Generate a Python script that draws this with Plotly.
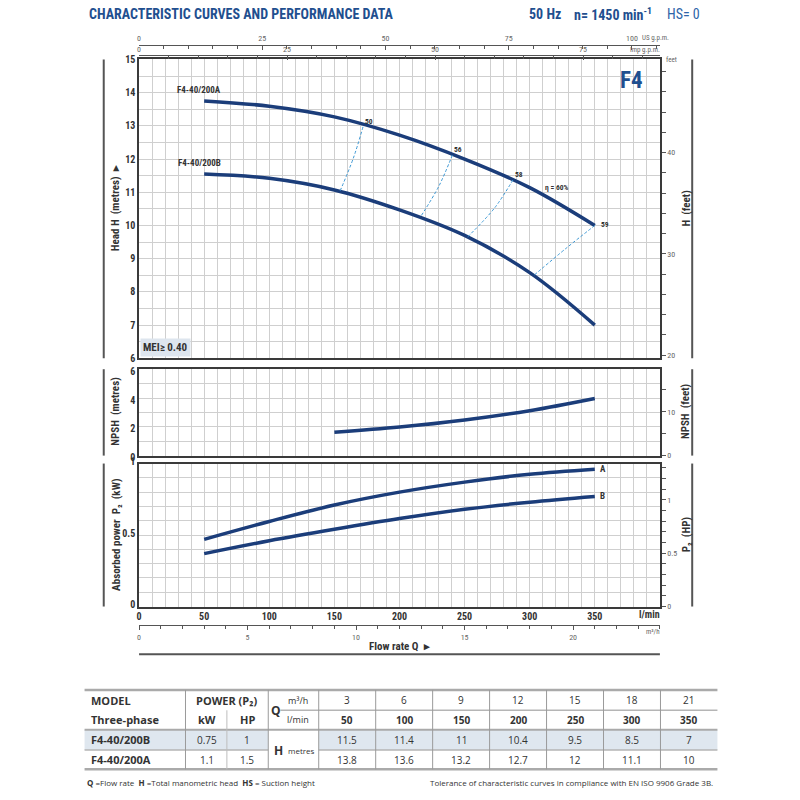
import numpy as np
import plotly.graph_objects as go

# flow rate (l/min) at which the curves were read
Q = [50, 100, 150, 200, 250, 300, 350]
HEAD_A = [13.75, 13.59, 13.27, 12.72, 12.0, 11.14, 10.0]
HEAD_B = [11.55, 11.42, 11.07, 10.47, 9.7, 8.58, 7.0]
POWER_A = [0.47, 0.595, 0.71, 0.80, 0.87, 0.925, 0.96]
POWER_B = [0.37, 0.46, 0.54, 0.615, 0.68, 0.73, 0.77]
NPSH_Q = [150, 200, 250, 300, 350]
NPSH = [1.62, 1.98, 2.47, 3.12, 3.97]

# iso-efficiency lines: (top on A, middle, bottom on B)
EFF_LABELS = ["50", "56", "58", "59"]
EFF_Q = [[172, 164.5, 154.4], [240.6, 230.2, 216], [287.1, 272.9, 252.2], [350, 328.5, 302.7]]
EFF_H = [[12.97, 12.02, 11.04], [12.12, 11.18, 10.25], [11.37, 10.52, 9.65], [10.0, 9.33, 8.48]]
ETA_TEXT = "η = 60%"
ETA_Q = 312

Q_TICKS = [0, 50, 100, 150, 200, 250, 300, 350]
USGPM_TICKS = [0, 25, 50, 75, 100]
IMPGPM_TICKS = [0, 25, 50, 75]
M3H_TICKS = [0, 5, 10, 15, 20]

# table
TAB_M3H = [3, 6, 9, 12, 15, 18, 21]
TAB_LMIN = [50, 100, 150, 200, 250, 300, 350]
TAB_MODELS = ["F4-40/200B", "F4-40/200A"]
TAB_KW = ["0.75", "1.1"]
TAB_HP = ["1", "1.5"]
TAB_H = [[11.5, 11.4, 11, 10.4, 9.5, 8.5, 7],
         [13.8, 13.6, 13.2, 12.7, 12, 11.1, 10]]

M_TO_FT = 3.28084
KW_TO_HP = 1 / 0.7457
LMIN_USGPM = 3.78541
LMIN_IMPGPM = 4.54609
LMIN_M3H = 1000 / 60
Q_MAX = 400

BLUE = "#1f4f8f"
CURVE = "#1b3d7a"
DASH = "#3a97d4"
GRID = "#cfcfcf"
FRAME = "#3a3a3a"
TXT = "#333333"
FONT = "Liberation Sans Narrow, Roboto Condensed, Roboto, sans-serif"
TFONT = "Open Sans, Noto Sans, sans-serif"

# the photographed page comes out slightly shrunk and offset, so layout
# positions (measured on the reference, in pixels) are corrected here
SHIFT = 5.2
SCALE = 0.987


def px(x):
    return (x - SHIFT) / SCALE / 800


def py(y):
    return 1 - (y - SHIFT) / SCALE / 800


XDOM = [px(140), px(656)]
DOM_H = [py(358), py(57)]
DOM_N = [py(456), py(369)]
DOM_P = [py(608), py(464)]

fig = go.Figure()

line_kw = dict(mode="lines", line=dict(color=CURVE, width=3.5, shape="spline"),
               hoverinfo="skip", showlegend=False)

fig.add_trace(go.Scatter(x=Q, y=HEAD_A, xaxis="x", yaxis="y", **line_kw))
fig.add_trace(go.Scatter(x=Q, y=HEAD_B, xaxis="x", yaxis="y", **line_kw))
for qs, hs in zip(EFF_Q, EFF_H):
    fig.add_trace(go.Scatter(x=qs, y=hs, xaxis="x", yaxis="y", mode="lines",
                             line=dict(color=DASH, width=1, dash="3px,2px", shape="spline"),
                             hoverinfo="skip", showlegend=False))
fig.add_trace(go.Scatter(x=NPSH_Q, y=NPSH, xaxis="x2", yaxis="y2", **line_kw))
fig.add_trace(go.Scatter(x=Q, y=POWER_A, xaxis="x3", yaxis="y3", **line_kw))
fig.add_trace(go.Scatter(x=Q, y=POWER_B, xaxis="x3", yaxis="y3", **line_kw))

# empty traces so that the secondary axes get drawn
for xa, ya in [("x", "y4"), ("x2", "y5"), ("x3", "y6"), ("x4", "y"), ("x5", "y"), ("x6", "y3")]:
    fig.add_trace(go.Scatter(x=[None], y=[None], xaxis=xa, yaxis=ya, showlegend=False,
                             hoverinfo="skip"))

base_x = dict(domain=XDOM, range=[0, Q_MAX], showgrid=True, gridcolor=GRID, gridwidth=1,
              zeroline=False, showline=True, linecolor=FRAME, linewidth=1.5, mirror=True,
              ticks="", tickmode="array", tickvals=Q_TICKS, showticklabels=False,
              minor=dict(tickmode="linear", tick0=0, dtick=10, showgrid=True,
                         gridcolor=GRID, gridwidth=1, ticks=""))
base_y = dict(showgrid=True, gridcolor=GRID, gridwidth=1, zeroline=False, showline=True,
              linecolor=FRAME, linewidth=1.5, mirror=True, ticks="",
              tickfont=dict(size=10, color=TXT, weight="bold"))
right_y = dict(side="right", showgrid=False, zeroline=False, showline=True, linecolor=FRAME,
               linewidth=1.5, ticks="outside", ticklen=4, tickcolor="#555",
               tickfont=dict(size=8, color="#666"))
top_x = dict(domain=XDOM, anchor="free", showgrid=False, zeroline=False, showline=True,
             linecolor="#555", linewidth=1, ticklen=4, tickcolor="#555",
             tickfont=dict(size=8, color="#666"), tickmode="array")

fig.update_layout(
    width=800, height=800, margin=dict(l=0, r=0, t=0, b=0),
    paper_bgcolor="white", plot_bgcolor="white", showlegend=False,
    font=dict(family=FONT, color=TXT),
    xaxis=dict(base_x, anchor="y"),
    xaxis2=dict(base_x, anchor="y2"),
    xaxis3=dict(base_x, anchor="y3", showticklabels=True,
                tickfont=dict(size=10, color=TXT, weight="bold")),
    yaxis=dict(base_y, domain=DOM_H, anchor="x", range=[6, 15], dtick=1, tick0=0,
               minor=dict(dtick=0.5, showgrid=True, gridcolor=GRID, ticks="")),
    yaxis2=dict(base_y, domain=DOM_N, anchor="x2", range=[0, 6], dtick=2, tick0=0,
                ticklabelshift=2,
                minor=dict(dtick=1, showgrid=True, gridcolor=GRID, ticks="")),
    yaxis3=dict(base_y, domain=DOM_P, anchor="x3", range=[0, 1], dtick=0.5, tick0=0,
                ticklabelshift=-2,
                minor=dict(dtick=0.1, showgrid=True, gridcolor=GRID, ticks="")),
    yaxis4=dict(right_y, overlaying="y", anchor="x", range=[6 * M_TO_FT, 15 * M_TO_FT],
                dtick=10, tick0=0, minor=dict(dtick=2, ticks="outside", ticklen=4, tickcolor="#555")),
    yaxis5=dict(right_y, overlaying="y2", anchor="x2", range=[0, 6 * M_TO_FT],
                dtick=10, tick0=0, minor=dict(dtick=5, ticks="outside", ticklen=4, tickcolor="#555")),
    yaxis6=dict(right_y, overlaying="y3", anchor="x3", range=[0, KW_TO_HP],
                dtick=0.5, tick0=0, minor=dict(dtick=0.1, ticks="outside", ticklen=4, tickcolor="#555")),
    xaxis4=dict(top_x, overlaying="x", position=py(42), side="top",
                range=[0, Q_MAX / LMIN_USGPM], tickvals=USGPM_TICKS, ticks="inside",
                minor=dict(tickmode="linear", tick0=0, dtick=5, ticks="inside", ticklen=3, tickcolor="#555")),
    xaxis5=dict(top_x, overlaying="x", position=py(53), side="top",
                range=[0, Q_MAX / LMIN_IMPGPM], tickvals=IMPGPM_TICKS, ticks="inside",
                minor=dict(tickmode="linear", tick0=0, dtick=5, ticks="inside", ticklen=3, tickcolor="#555")),
    xaxis6=dict(top_x, overlaying="x3", position=py(627), side="bottom",
                range=[0, Q_MAX / LMIN_M3H], tickvals=M3H_TICKS, ticks="outside",
                minor=dict(tickmode="linear", tick0=0, dtick=1, ticks="outside", ticklen=3, tickcolor="#555")),
)

ann = []


def note(x, y, text, size=10, color=TXT, xanchor="center", yanchor="middle", family=FONT, **kw):
    ann.append(dict(x=px(x), y=py(y), xref="paper", yref="paper", text=text, showarrow=False,
                    xanchor=xanchor, yanchor=yanchor,
                    font=dict(size=size, color=color, family=family), **kw))


# header
note(88, 11, "<b>CHARACTERISTIC CURVES AND PERFORMANCE DATA</b>", size=14, color=BLUE, xanchor="left")
note(524, 11, "<b>50 Hz</b>", size=14, color=BLUE, xanchor="left")
note(569, 11, "<b>n= 1450 min<sup>-1</sup></b>", size=14, color=BLUE, xanchor="left")
note(661, 11, "HS= 0", size=14, color="#2d64a8", xanchor="left")
note(636, 35, "US g.p.m.", size=7, color="#666", xanchor="left")
note(658, 48, "Imp g.p.m.", size=7, color="#666", xanchor="right")
note(667, 58, "feet", size=7, color="#666", xanchor="center")
note(628, 78, "<b>F4</b>", size=23, color=BLUE)

# axis titles
note(117, 207, "<b>Head H  (metres)  ▸</b>", size=11, textangle=-90)
note(117, 412, "<b>NPSH  (metres)</b>", size=11, textangle=-90)
note(117, 536, "<b>Absorbed power  P₂  (kW)</b>", size=11, textangle=-90)
note(682, 207, "<b>H  (feet)</b>", size=11, textangle=-90)
note(682, 412, "<b>NPSH  (feet)</b>", size=11, textangle=-90)
note(682, 536, "<b>P₂  (HP)</b>", size=11, textangle=-90)
note(646, 616, "<b>l/min</b>", size=10)
note(649, 634, "m³/h", size=7, color="#666")
note(398, 648, "<b>Flow rate Q  ▸</b>", size=11)
note(141, 357, "<b>MEI≥ 0.40</b>", size=11, xanchor="left", yanchor="bottom",
     bgcolor="#dde5ee", borderpad=2)

# curve labels
for name, h in zip(["F4-40/200A", "F4-40/200B"], [HEAD_A, HEAD_B]):
    ann.append(dict(x=Q[0], y=h[0], xref="x", yref="y", text="<b>" + name + "</b>",
                    showarrow=False, xanchor="center", yanchor="bottom", xshift=-5, yshift=4,
                    font=dict(size=9, color=TXT, family=FONT)))
for name, p in zip(["A", "B"], [POWER_A, POWER_B]):
    ann.append(dict(x=Q[-1], y=p[-1], xref="x3", yref="y3", text="<b>" + name + "</b>",
                    showarrow=False, xanchor="left", yanchor="middle", xshift=3,
                    font=dict(size=9, color=TXT, family=FONT)))
for i, (lab, qs, hs) in enumerate(zip(EFF_LABELS, EFF_Q, EFF_H)):
    last = i == len(EFF_LABELS) - 1
    ann.append(dict(x=qs[0], y=hs[0], xref="x", yref="y", text="<b>" + lab + "</b>",
                    showarrow=False, xanchor="left", yanchor="middle" if last else "bottom",
                    xshift=4 if last else 0, yshift=1 if last else -1,
                    font=dict(size=7.5, color=TXT, family=FONT)))
ann.append(dict(x=ETA_Q, y=float(np.interp(ETA_Q, Q, HEAD_A)), xref="x", yref="y",
                text="<b>" + ETA_TEXT + "</b>", showarrow=False, xanchor="left",
                yanchor="bottom", xshift=-2, yshift=3, font=dict(size=7.5, color=TXT, family=FONT)))

shapes = []


def hline(x0, x1, y, color="#555", width=2):
    shapes.append(dict(type="line", xref="paper", yref="paper", x0=px(x0), x1=px(x1),
                       y0=py(y), y1=py(y), line=dict(color=color, width=width)))


def vline(x, y0, y1, color="#555", width=2):
    shapes.append(dict(type="line", xref="paper", yref="paper", x0=px(x), x1=px(x),
                       y0=py(y0), y1=py(y1), line=dict(color=color, width=width)))


def rect(x0, x1, y0, y1, color):
    shapes.append(dict(type="rect", xref="paper", yref="paper", x0=px(x0), x1=px(x1),
                       y0=py(y0), y1=py(y1), fillcolor=color, line=dict(width=0), layer="below"))


for top, bot in [(57, 358), (369, 456), (464, 608)]:
    vline(105, top, bot)
    vline(688, top, bot)
hline(140, 656, 656)

# ---- table ----
T_L, T_R = 86, 713
ROWS = [692, 712.5, 732, 752.5, 772]
COL_W = (T_R - 318) / len(TAB_M3H)
data_cols = [318 + k * COL_W for k in range(len(TAB_M3H) + 1)]
centers = [(a + b) / 2 for a, b in zip(data_cols[:-1], data_cols[1:])]

rect(T_L, 268, ROWS[2], ROWS[3], "#dfe7ef")
rect(318, T_R, ROWS[2], ROWS[3], "#dfe7ef")
hline(T_L, T_R, ROWS[0], "#aaaaaa", 2.5)
hline(280, T_R, ROWS[1], "#b5b5b5", 1.5)
hline(T_L, T_R, ROWS[2], "#aaaaaa", 2)
hline(T_L, 268, ROWS[3], "#b5b5b5", 1.5)
hline(318, T_R, ROWS[3], "#b5b5b5", 1.5)
hline(T_L, T_R, ROWS[4], "#aaaaaa", 2.5)
for xc in [186, 268] + data_cols[:-1]:
    vline(xc, ROWS[0], ROWS[4], "#9a9a9a", 1)
vline(227, ROWS[1], ROWS[4], "#bdbdbd", 1)

mid = [(a + b) / 2 for a, b in zip(ROWS[:-1], ROWS[1:])]
note(90, mid[0], "<b>MODEL</b>", size=11, xanchor="left", family=TFONT)
note(90, mid[1], "<b>Three-phase</b>", size=11, xanchor="left", family=TFONT)
note(227, mid[0], "<b>POWER (P₂)</b>", size=11, family=TFONT)
note(207, mid[1], "<b>kW</b>", size=11, family=TFONT)
note(247, mid[1], "<b>HP</b>", size=11, family=TFONT)
note(276, ROWS[1], "<b>Q</b>", size=12, family=TFONT)
note(297, mid[0], "m³/h", size=9, family=TFONT)
note(297, mid[1], "l/min", size=9, family=TFONT)
note(278, ROWS[3], "<b>H</b>", size=12, family=TFONT)
note(286, ROWS[3] + 1, "metres", size=8, xanchor="left", family=TFONT)
for cx, m3, lm in zip(centers, TAB_M3H, TAB_LMIN):
    note(cx, mid[0], str(m3), size=10, family=TFONT)
    note(cx, mid[1], "<b>%d</b>" % lm, size=10, family=TFONT)
for r, (model, kw, hp, hs) in enumerate(zip(TAB_MODELS, TAB_KW, TAB_HP, TAB_H)):
    y = mid[2 + r]
    note(90, y, "<b>" + model + "</b>", size=11, xanchor="left", family=TFONT)
    note(207, y, kw, size=10, family=TFONT)
    note(247, y, hp, size=10, family=TFONT)
    for cx, h in zip(centers, hs):
        note(cx, y, "%g" % h, size=10, family=TFONT)

note(86, 785, "<b>Q</b> =Flow rate  <b>H</b> =Total manometric head  <b>HS</b> = Suction height",
     size=8, xanchor="left", family=TFONT)
note(711, 785, "Tolerance of characteristic curves in compliance with EN ISO 9906 Grade 3B.",
     size=8, xanchor="right", family=TFONT)

fig.update_layout(annotations=ann, shapes=shapes)
# the page body has a default margin; drop it so the figure starts at the window corner
fig.write_html("out.html", config={"displayModeBar": False},
               post_script="document.body.style.margin = '0';")
